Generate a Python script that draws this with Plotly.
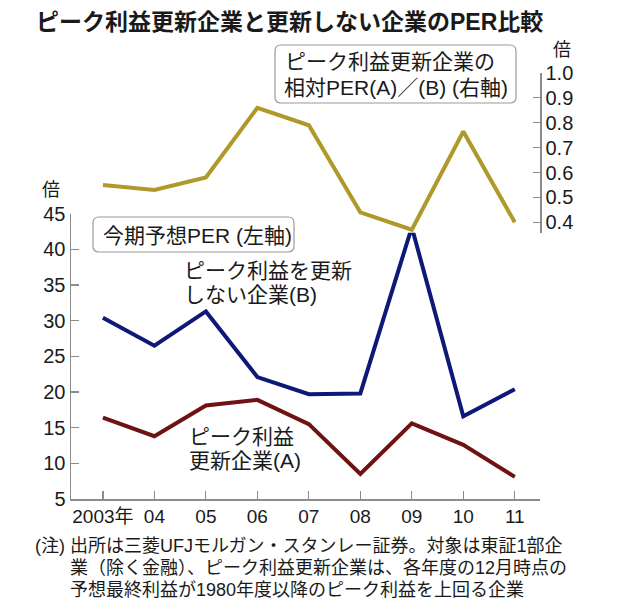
import plotly.graph_objects as go

# ---- data ----
years = ["2003年", "04", "05", "06", "07", "08", "09", "10", "11"]
per_a = [16.4, 13.8, 18.1, 18.9, 15.5, 8.5, 15.6, 12.6, 8.1]      # ピーク利益更新企業(A)
per_b = [30.4, 26.5, 31.3, 22.1, 19.7, 19.8, 43.1, 16.6, 20.4]    # ピーク利益を更新しない企業(B)
ratio_ab = [0.55, 0.53, 0.58, 0.86, 0.79, 0.44, 0.37, 0.765, 0.40]  # 相対PER (A)/(B)
left_ticks = [5, 10, 15, 20, 25, 30, 35, 40, 45]
right_ticks = [0.4, 0.5, 0.6, 0.7, 0.8, 0.9, 1.0]

# ---- geometry (reference pixels) ----
OFF = 8                      # page body margin of the browser
W, H = 624 - 2 * OFF, 608 - 2 * OFF
L, R, T, B = 71, 540, 73, 499
PW, PH = R - L, B - T

FONT = "Liberation Sans, Arial, Noto Sans CJK JP, sans-serif"
TXT = "#1a1a1a"
AX = "#8c8c8c"
GOLD = "#b0982a"
NAVY = "#0d1878"
MAROON = "#6e1212"


def px(x):
    return (x - L) / PW


def py(y):
    return (B - y) / PH


fig = go.Figure()
fig.add_trace(go.Scatter(x=years, y=ratio_ab, mode="lines", xaxis="x", yaxis="y2",
                         line=dict(color=GOLD, width=4), hoverinfo="skip"))
fig.add_trace(go.Scatter(x=years, y=per_a, mode="lines",
                         line=dict(color=MAROON, width=4), hoverinfo="skip"))
fig.add_trace(go.Scatter(x=years, y=per_b, mode="lines",
                         line=dict(color=NAVY, width=4), hoverinfo="skip"))

fig.update_layout(
    width=W, height=H, autosize=False,
    margin=dict(l=L - OFF, r=W - (R - OFF), t=T - OFF, b=H - (B - OFF), pad=0),
    paper_bgcolor="white", plot_bgcolor="white",
    showlegend=False,
    font=dict(family=FONT, color=TXT, size=20),
    xaxis=dict(type="category", range=[-0.62, 8.49], showgrid=False, zeroline=False,
               showline=True, linecolor=AX, linewidth=1.5,
               ticks="inside", ticklen=8, tickcolor=AX, tickwidth=1.2,
               tickfont=dict(size=19, family=FONT, color=TXT), anchor="y"),
    yaxis=dict(domain=[0, py(213.7)], range=[5, 45], tickvals=left_ticks,
               showgrid=False, zeroline=False, showline=True, linecolor=AX, linewidth=1.5,
               ticks="inside", ticklen=8, tickcolor=AX, tickwidth=1.2,
               tickfont=dict(size=20, family=FONT, color=TXT), anchor="x"),
    yaxis2=dict(domain=[py(232.7), 1.0], range=[0.358, 1.0], tickvals=right_ticks,
                tickformat=".1f", side="right", anchor="free", position=1.0,
                showgrid=False, zeroline=False, showline=True, linecolor=AX, linewidth=1.5,
                ticks="inside", ticklen=7, tickcolor=AX, tickwidth=1.2,
                tickfont=dict(size=20, family=FONT, color=TXT)),
)


def rounded_box(x0, y0, x1, y1, r=6):
    rx = r / PW
    ry = r / PH
    a, b, c, d = px(x0), py(y1), px(x1), py(y0)  # left, bottom, right, top (paper)
    path = (f"M {a+rx},{d} L {c-rx},{d} Q {c},{d} {c},{d-ry} "
            f"L {c},{b+ry} Q {c},{b} {c-rx},{b} "
            f"L {a+rx},{b} Q {a},{b} {a},{b+ry} "
            f"L {a},{d-ry} Q {a},{d} {a+rx},{d} Z")
    fig.add_shape(type="path", path=path, xref="paper", yref="paper",
                  line=dict(color="#9a9a9a", width=1.2), fillcolor="rgba(255,255,255,0)",
                  layer="above")


def label(text, x, y, size=21, bold=False, anchor="left"):
    if bold:
        text = f"<b>{text}</b>"
    fig.add_annotation(text=text, x=px(x), y=py(y), xref="paper", yref="paper",
                       xanchor=anchor, yanchor="middle", showarrow=False,
                       font=dict(size=size, family=FONT, color=TXT))


# title
label("ピーク利益更新企業と更新しない企業のPER比較", 34, 22, size=23, bold=True)

# boxes
rounded_box(275, 45, 516, 103)
label("ピーク利益更新企業の", 283, 62)
label("相対PER(A)／(B) (右軸)", 282, 88)
rounded_box(93, 217, 294, 252)
label("今期予想PER (左軸)", 101, 235)

# series labels
label("ピーク利益を更新", 182, 270)
label("しない企業(B)", 182, 294)
label("ピーク利益", 187, 436)
label("更新企業(A)", 187, 460)

# unit labels
label("倍", 51, 190, size=18, anchor="center")
label("倍", 562, 50, size=18, anchor="center")

# footnote
label("(注)", 33, 546, size=18)
label("出所は三菱UFJモルガン・スタンレー証券。対象は東証1部企", 68, 546, size=18)
label("業（除く金融）、ピーク利益更新企業は、各年度の12月時点の", 68, 568, size=18)
label("予想最終利益が1980年度以降のピーク利益を上回る企業", 68, 590, size=18)

fig.write_html("out.html", config=dict(displayModeBar=False, staticPlot=True))
